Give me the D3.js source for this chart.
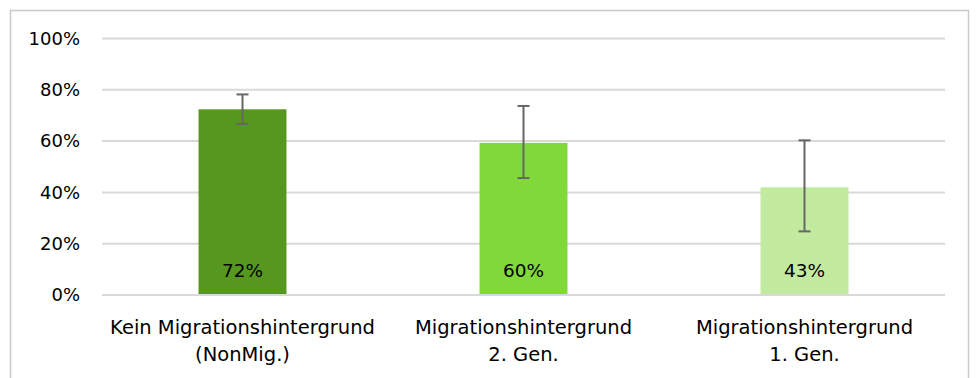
<!DOCTYPE html>
<html><head><meta charset="utf-8">
<script src="https://cdn.jsdelivr.net/npm/d3@7"></script>
<style>
body{margin:0;background:#fff;}
svg{display:block;}
text{font-family:"DejaVu Sans",sans-serif;fill:#000;}
</style></head><body>
<svg id="c" width="976" height="378"></svg>
<script>
const categories = [["Kein Migrationshintergrund","(NonMig.)"],["Migrationshintergrund","2. Gen."],["Migrationshintergrund","1. Gen."]];
const values = [0.724, 0.593, 0.42];
const labels = ["72%","60%","43%"];
const errLow = [0.667, 0.456, 0.248];
const errHigh = [0.782, 0.737, 0.603];
const colors = ["#56981F","#80D83A","#C3EBA0"];
const yTicks = [0,0.2,0.4,0.6,0.8,1.0];

const svg = d3.select("#c");
svg.append("rect").attr("x",10.5).attr("y",10.5).attr("width",958).attr("height",400)
  .attr("fill","#fff").attr("stroke","#c9c9c9").attr("stroke-width",1.5);

const x = d3.scaleBand().domain(d3.range(categories.length)).range([102,945]).paddingInner(0.687).paddingOuter(0.3435);
const y = d3.scaleLinear().domain([0,1]).range([295,38.5]);

svg.append("g").selectAll("line").data(yTicks).join("line")
  .attr("x1",102).attr("x2",945).attr("y1",d=>y(d)).attr("y2",d=>y(d))
  .attr("stroke","#d9d9d9").attr("stroke-width",2);

const yAxis = d3.axisLeft(y).tickValues(yTicks).tickFormat(d3.format(".0%")).tickSize(0).tickPadding(22);
const ga = svg.append("g").attr("transform","translate(102,0)").call(yAxis);
ga.select(".domain").remove();
ga.selectAll("text").attr("font-size",18).attr("font-family","DejaVu Sans, sans-serif").attr("fill","#000");

svg.append("g").selectAll("rect").data(values).join("rect")
  .attr("x",(d,i)=>x(i)).attr("width",x.bandwidth())
  .attr("y",d=>y(d)).attr("height",d=>y(0)-y(d))
  .attr("fill",(d,i)=>colors[i]);

svg.append("line").attr("x1",102).attr("x2",945).attr("y1",y(0)).attr("y2",y(0))
  .attr("stroke","#d9d9d9").attr("stroke-width",2);

const eg = svg.append("g").attr("stroke","#666").attr("stroke-width",2);
values.forEach((v,i)=>{
  const cx = x(i)+x.bandwidth()/2;
  eg.append("line").attr("x1",cx).attr("x2",cx).attr("y1",y(errHigh[i])).attr("y2",y(errLow[i]));
  eg.append("line").attr("x1",cx-6).attr("x2",cx+6).attr("y1",y(errHigh[i])).attr("y2",y(errHigh[i]));
  eg.append("line").attr("x1",cx-6).attr("x2",cx+6).attr("y1",y(errLow[i])).attr("y2",y(errLow[i]));
});

svg.append("g").selectAll("text").data(labels).join("text")
  .attr("x",(d,i)=>x(i)+x.bandwidth()/2).attr("y",277)
  .attr("text-anchor","middle").attr("font-size",18.5).text(d=>d);

const cg = svg.append("g");
categories.forEach((c,i)=>{
  const cx = x(i)+x.bandwidth()/2;
  c.forEach((line,j)=>{
    cg.append("text").attr("x",cx).attr("y",334+j*27).attr("text-anchor","middle")
      .attr("font-size",19.5).text(line);
  });
});
</script>
</body></html>
